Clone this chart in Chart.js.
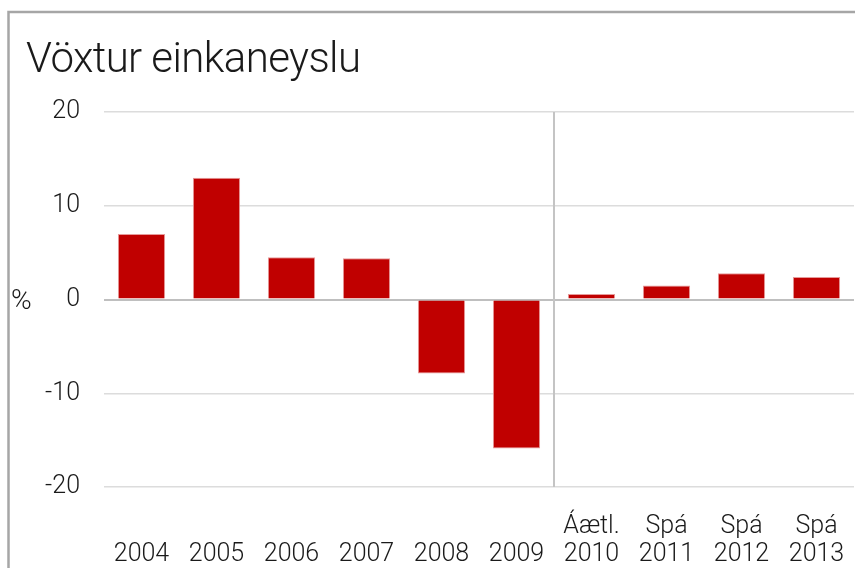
<!DOCTYPE html>
<html>
<head>
<meta charset="utf-8">
<script src="https://cdn.jsdelivr.net/npm/chart.js@4"></script>
<style>
  html, body { margin: 0; padding: 0; background: #fff; }
  #wrap { position: relative; width: 855px; height: 568px; }
</style>
</head>
<body>
<div id="wrap"><canvas id="c" width="855" height="568"></canvas></div>
<script>
const titleText = 'Vöxtur einkaneyslu';
const unitLabel = '%';
const categories = [
  ['', '2004'], ['', '2005'], ['', '2006'], ['', '2007'], ['', '2008'], ['', '2009'],
  ['Áætl.', '2010'], ['Spá', '2011'], ['Spá', '2012'], ['Spá', '2013']
];
const growth = [7.0, 13.0, 4.5, 4.4, -7.9, -15.9, 0.6, 1.5, 2.8, 2.4];
const yMin = -20, yMax = 20, yStep = 10;
const dividerAfterIndex = 5;

const FONT = 'Roboto';

const decor = {
  id: 'decor',
  beforeDraw(chart) {
    const ctx = chart.ctx;
    ctx.save();
    // frame
    ctx.strokeStyle = '#a6a6a6';
    ctx.lineWidth = 2.5;
    ctx.beginPath();
    ctx.moveTo(8.5, 600);
    ctx.lineTo(8.5, 12);
    ctx.lineTo(900, 12);
    ctx.stroke();
    // title
    ctx.fillStyle = '#1a1a1a';
    ctx.font = '300 42px ' + FONT;
    ctx.textBaseline = 'alphabetic';
    ctx.textAlign = 'left';
    if ('letterSpacing' in ctx) ctx.letterSpacing = '-0.6px';
    ctx.fillText(titleText, 26, 72);
    if ('letterSpacing' in ctx) ctx.letterSpacing = '0px';
    // unit label
    const y0 = chart.scales.y.getPixelForValue(0);
    ctx.font = '300 28px ' + FONT;
    ctx.textBaseline = 'middle';
    ctx.fillText(unitLabel, 11, y0 + 2);
    ctx.restore();
  },
  afterDatasetsDraw(chart) {
    const ctx = chart.ctx;
    const xs = chart.scales.x, ys = chart.scales.y;
    const x = Math.round((xs.getPixelForValue(dividerAfterIndex) + xs.getPixelForValue(dividerAfterIndex + 1)) / 2);
    ctx.save();
    ctx.strokeStyle = '#c4c4c4';
    ctx.lineWidth = 2;
    ctx.beginPath();
    ctx.moveTo(x, ys.getPixelForValue(yMax));
    ctx.lineTo(x, ys.getPixelForValue(yMin));
    ctx.stroke();
    ctx.restore();
  }
};

new Chart(document.getElementById('c'), {
  type: 'bar',
  data: {
    labels: categories,
    datasets: [{
      data: growth,
      backgroundColor: '#c00000',
      borderColor: '#e79a9a',
      borderWidth: 1,
      categoryPercentage: 1,
      barPercentage: 0.63
    }]
  },
  options: {
    responsive: false,
    animation: false,
    devicePixelRatio: 1,
    layout: { padding: { top: 112, left: 0, right: 1, bottom: 0 } },
    plugins: { legend: { display: false }, tooltip: { enabled: false }, title: { display: false } },
    scales: {
      x: {
        offset: true,
        grid: { display: false, drawTicks: false },
        border: { display: false },
        ticks: {
          color: '#1a1a1a',
          font: { family: FONT, size: 25, weight: '300', lineHeight: 1.1 },
          padding: 26,
          maxRotation: 0,
          autoSkip: false
        },
        afterFit(s) { s.height = 81; s.paddingLeft = 0; s.paddingRight = 0; }
      },
      y: {
        min: yMin, max: yMax,
        grid: {
          drawTicks: false,
          color: (c) => c.tick && c.tick.value === 0 ? '#bfbfbf' : '#dcdcdc',
          lineWidth: (c) => c.tick && c.tick.value === 0 ? 2 : 1.5
        },
        border: { display: false },
        ticks: {
          stepSize: yStep,
          color: '#1a1a1a',
          font: { family: FONT, size: 25, weight: '300' },
          padding: 24
        },
        afterFit(s) { s.width = 104; s.paddingTop = 0; s.paddingBottom = 0; }
      }
    }
  },
  plugins: [decor]
});
</script>
</body>
</html>
